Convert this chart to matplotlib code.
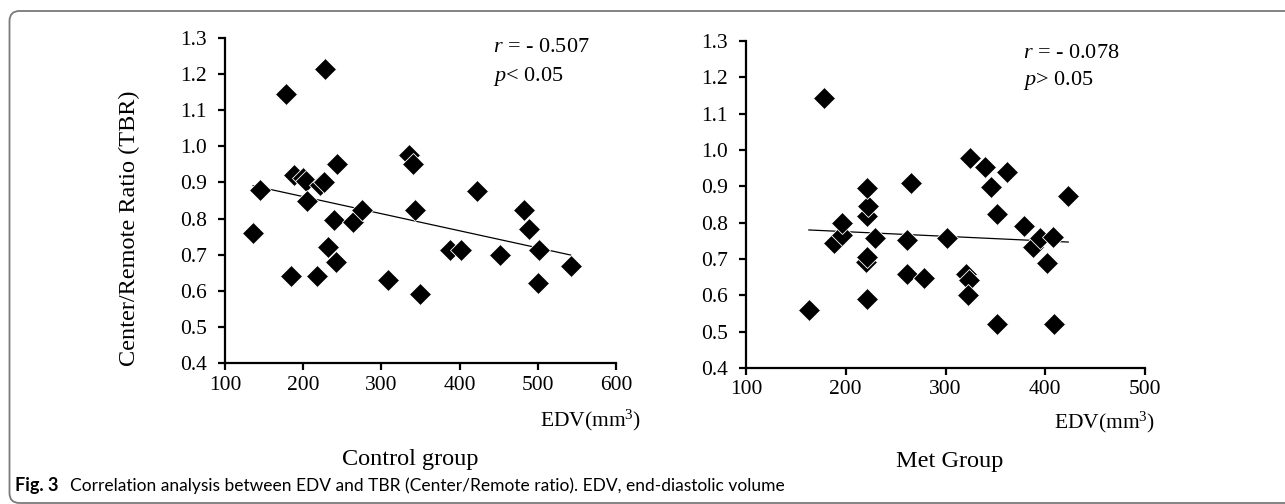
import numpy as np
import matplotlib
matplotlib.use("Agg")
import matplotlib.pyplot as plt
from matplotlib.patches import FancyBboxPatch
from matplotlib.ticker import FormatStrFormatter, MultipleLocator
from matplotlib.transforms import IdentityTransform

# values
control_edv = [136, 145, 178, 185, 188, 200, 204, 205, 218, 221, 226, 228, 232, 239, 242, 243,
               264, 275, 308, 335, 341, 343, 349, 388, 402, 422, 452, 482, 489, 500, 502, 542]
control_tbr = [0.76, 0.88, 1.145, 0.64, 0.92, 0.912, 0.905, 0.85, 0.64, 0.893, 0.902, 1.215,
               0.72, 0.795, 0.68, 0.95, 0.79, 0.823, 0.63, 0.975, 0.95, 0.823, 0.59, 0.713,
               0.713, 0.877, 0.70, 0.823, 0.772, 0.622, 0.713, 0.67]

met_edv = [163, 178, 188, 196, 196, 220, 221, 221, 221, 222, 221, 229, 261, 261, 265, 278, 302,
           321, 324, 323, 325, 340, 346, 352, 352, 362, 379, 388, 395, 402, 408, 409, 423]
met_tbr = [0.56, 1.144, 0.745, 0.766, 0.80, 0.692, 0.706, 0.59, 0.817, 0.847, 0.896, 0.757,
           0.752, 0.66, 0.909, 0.649, 0.757, 0.66, 0.642, 0.60, 0.978, 0.953, 0.897, 0.824,
           0.52, 0.939, 0.791, 0.734, 0.757, 0.69, 0.761, 0.52, 0.873]

control_stats = ["$r$ = - 0.507", "$p$< 0.05"]
met_stats = ["$r$ = - 0.078", "$p$> 0.05"]
y_ticks = [0.4, 0.5, 0.6, 0.7, 0.8, 0.9, 1.0, 1.1, 1.2, 1.3]

W, H = 1285, 504

plt.rcParams["font.family"] = "Liberation Serif"
plt.rcParams["mathtext.fontset"] = "custom"
plt.rcParams["mathtext.rm"] = "Liberation Serif"
plt.rcParams["mathtext.it"] = "Liberation Serif:italic"


def px_axes(fig, x0, x1, ytop, ybot):
    return fig.add_axes([x0 / W, 1 - ybot / H, (x1 - x0) / W, (ybot - ytop) / H])


def fx(x):
    return x / W


def fy(y):
    return 1 - y / H


def draw_panel(ax, edv, tbr, xmax):
    edv = np.asarray(edv, float)
    tbr = np.asarray(tbr, float)
    coef = np.polyfit(edv, tbr, 1)
    xs = np.array([edv.min(), edv.max()])
    ax.plot(xs, np.polyval(coef, xs), color="black", lw=0.9, zorder=2)
    ax.plot(edv, tbr, "D", ms=11.5, color="black", mec="white", mew=0.6, zorder=3,
            clip_on=False)
    ax.set_xlim(100, xmax)
    ax.set_ylim(0.4, 1.3)
    ax.set_yticks(y_ticks)
    ax.xaxis.set_major_locator(MultipleLocator(100))
    ax.yaxis.set_major_formatter(FormatStrFormatter("%.1f"))
    for side in ("top", "right"):
        ax.spines[side].set_visible(False)
    for side in ("left", "bottom"):
        ax.spines[side].set_linewidth(1.6)
    ax.tick_params(direction="out", length=5, width=1.6, labelsize=15.5, pad=4)
    ax.tick_params(axis="y", pad=8)


fig = plt.figure(figsize=(W / 100, H / 100), dpi=100)

ax1 = px_axes(fig, 225, 616, 38, 363)
draw_panel(ax1, control_edv, control_tbr, 600)
ax1.set_ylabel("Center/Remote Ratio (TBR)", fontsize=17.5)
ax1.yaxis.set_label_coords((140 - 225) / 391, (363 - 228) / 325)

ax2 = px_axes(fig, 746, 1145, 41, 368)
draw_panel(ax2, met_edv, met_tbr, 500)

for x0, ys, lines in ((493, (48, 77), control_stats), (1023, (53, 80), met_stats)):
    for y, s in zip(ys, lines):
        fig.text(fx(x0), fy(y), s, fontsize=16, va="center", ha="left")

fig.text(fx(641), fy(420), "EDV(mm$^3$)", fontsize=15.5, ha="right", va="center")
fig.text(fx(1155), fy(422), "EDV(mm$^3$)", fontsize=15.5, ha="right", va="center")
fig.text(fx(410), fy(460), "Control group", fontsize=17.5, ha="center", va="center")
fig.text(fx(950), fy(462), "Met Group", fontsize=17.5, ha="center", va="center")

# caption: bold "Fig. 3" followed by the description
cap = fig.text(fx(15), fy(491), "Fig. 3", fontsize=13, fontweight="bold",
               family=["Lato", "DejaVu Sans"], va="baseline")
fig.text(fx(70), fy(491),
         "Correlation analysis between EDV and TBR (Center/Remote ratio). EDV, end-diastolic volume",
         fontsize=12.5, family=["Lato", "DejaVu Sans"], va="baseline")

# rounded frame around the figure
frame = FancyBboxPatch((9.5, 1), 1320, 492, boxstyle="round,pad=0,rounding_size=10",
                       transform=IdentityTransform(), fill=False, ec="#7a7a7a", lw=1.3)
fig.add_artist(frame)

fig.savefig("out.png", dpi=100, facecolor="white")
